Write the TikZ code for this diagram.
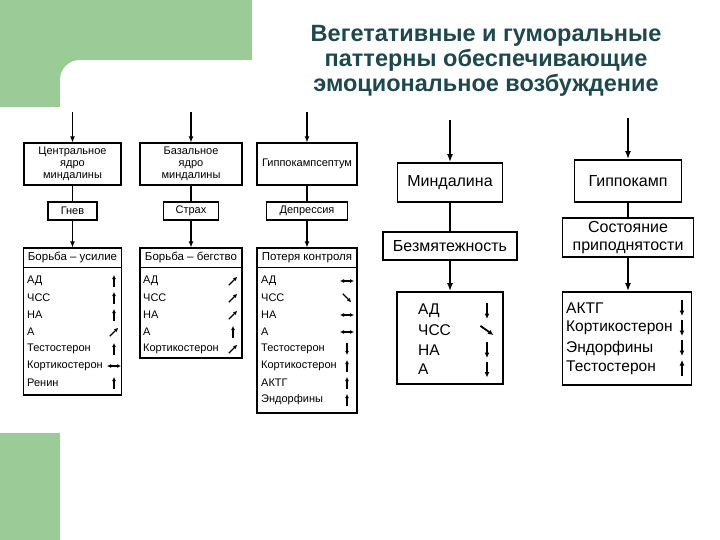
\documentclass[tikz,border=0pt]{standalone}
\usepackage{fontspec}
\setmainfont{Liberation Sans}
\usetikzlibrary{arrows.meta,positioning}

\definecolor{slidegreen}{RGB}{155,203,151}
\definecolor{titleteal}{RGB}{28,72,78}

\begin{document}
\begin{tikzpicture}[x=1pt, y=-1pt,
        box/.style={draw, line width=1.1pt, align=center, inner sep=1pt, font=\fontsize{11}{12}\selectfont},
        bigbox/.style={draw, line width=1.8pt, align=center, inner sep=1pt, font=\fontsize{16}{18}\selectfont},
        hdr/.style={inner sep=0pt, font=\fontsize{11.5}{13}\selectfont},
        row/.style={anchor=west, inner sep=0pt, font=\fontsize{11}{13}\selectfont},
        bigrow/.style={anchor=west, inner sep=0pt, font=\fontsize{15.5}{18}\selectfont},
        arr/.style={-{Latex[length=6pt,width=5pt]}, line width=1.1pt},
        bigarr/.style={-{Latex[length=8pt,width=6pt]}, line width=1.6pt},
        trs/.style={-{Latex[length=4pt,width=4pt]}, line width=1.3pt},
        trd/.style={<->, >={Latex[length=4pt,width=4pt]}, line width=1.3pt},
        bigtrs/.style={-{Latex[length=5.5pt,width=5pt]}, line width=1.8pt},
        ttl/.style={align=center, text=titleteal, font=\fontsize{23.5}{25}\selectfont\bfseries}
    ]
    \useasboundingbox (0,0) rectangle (720,540);

    % green corner shapes
    \fill[slidegreen] (0,0) rectangle (252,60);
    \fill[slidegreen] (0,0) rectangle (60,107);
    \fill[slidegreen] (60,60) rectangle (80,80);
    \fill[white] (80,80) circle (20pt);
    \fill[slidegreen] (0,433) rectangle (60,540);

    \node[ttl] (title) at (486,61) {Вегетативные и гуморальные\\паттерны обеспечивающие\\эмоциональное возбуждение};

    % column 1
    \coordinate (in1) at (72.5,112);
    \node[box, minimum width=97pt, minimum height=42pt] (c1) at (72.5,164) {Центральное\\ядро\\миндалины};
    \node[box, minimum width=49pt, minimum height=18pt] (e1) at (72.5,211) {Гнев};
    \node[draw, line width=1.1pt, minimum width=98pt, minimum height=147pt] (l1) at (72.5,321.5) {};
    \node[hdr, minimum width=98pt, minimum height=20pt, anchor=north] (h1) at (l1.north) {Борьба – усилие};
    \draw[line width=1.1pt] (h1.south west) -- (h1.south east);
    \draw[arr] (in1) -- (c1);
    \draw[line width=1.1pt] (c1) -- (e1);
    \draw[arr] (e1) -- (l1);
    \foreach \t/\a/\d [count=\i] in {АД/90/0, ЧСС/90/0, НА/90/0, А/45/0, Тестостерон/90/0, Кортикостерон/0/1, Ренин/90/0}{
        \node[row] (r1\i) at (27,264+17*\i) {\t};
        \ifnum\d=1
            \draw[trd] (114,264+17*\i) ++(180:7pt) -- ++(0:14pt);
        \else
            \draw[trs] (114,264+17*\i) ++(\a+180:6pt) -- ++(\a:12pt);
        \fi
    }

    % column 2
    \coordinate (in2) at (191,112);
    \node[box, minimum width=102pt, minimum height=42pt] (c2) at (191,164) {Базальное\\ядро\\миндалины};
    \node[box, minimum width=55pt, minimum height=18pt] (e2) at (191,211) {Страх};
    \node[draw, line width=1.1pt, minimum width=102pt, minimum height=110pt] (l2) at (191,303) {};
    \node[hdr, minimum width=102pt, minimum height=20pt, anchor=north] (h2) at (l2.north) {Борьба – бегство};
    \draw[line width=1.1pt] (h2.south west) -- (h2.south east);
    \draw[arr] (in2) -- (c2);
    \draw[line width=1.1pt] (c2) -- (e2);
    \draw[arr] (e2) -- (l2);
    \foreach \t/\a [count=\i] in {АД/45, ЧСС/45, НА/45, А/90, Кортикостерон/45}{
        \node[row] (r2\i) at (143,264+17*\i) {\t};
        \draw[trs] (233,264+17*\i) ++(\a+180:6pt) -- ++(\a:12pt);
    }

    % column 3
    \coordinate (in3) at (307,112);
    \node[box, minimum width=100pt, minimum height=42pt] (c3) at (307,164) {Гиппокампсептум};
    \node[box, minimum width=81pt, minimum height=18pt] (e3) at (307,211) {Депрессия};
    \node[draw, line width=1.1pt, minimum width=100pt, minimum height=165pt] (l3) at (307,330.5) {};
    \node[hdr, minimum width=100pt, minimum height=20pt, anchor=north] (h3) at (l3.north) {Потеря контроля};
    \draw[line width=1.1pt] (h3.south west) -- (h3.south east);
    \draw[arr] (in3) -- (c3);
    \draw[line width=1.1pt] (c3) -- (e3);
    \draw[arr] (e3) -- (l3);
    \foreach \t/\a/\d [count=\i] in {АД/0/1, ЧСС/-45/0, НА/0/1, А/0/1, Тестостерон/-90/0, Кортикостерон/90/0, АКТГ/90/0, Эндорфины/90/0}{
        \node[row] (r3\i) at (261,264+17*\i) {\t};
        \ifnum\d=1
            \draw[trd] (347,264+17*\i) ++(180:7pt) -- ++(0:14pt);
        \else
            \draw[trs] (347,264+17*\i) ++(\a+180:6pt) -- ++(\a:12pt);
        \fi
    }

    % column 4
    \coordinate (in4) at (450,120);
    \node[bigbox, minimum width=105pt, minimum height=39pt] (c4) at (450,182.5) {Миндалина};
    \node[bigbox, minimum width=134pt, minimum height=28pt] (e4) at (450,246) {Безмятежность};
    \node[draw, line width=1.8pt, minimum width=106pt, minimum height=92pt] (l4) at (450,338) {};
    \draw[bigarr] (in4) -- (c4);
    \draw[line width=1.1pt] (c4) -- (e4);
    \draw[bigarr] (e4) -- (l4);
    \foreach \t/\a [count=\i] in {АД/-90, ЧСС/-35, НА/-90, А/-90}{
        \node[bigrow] (r4\i) at (418,291.5+19.5*\i) {\t};
        \draw[bigtrs] (487,291.5+19.5*\i) ++(\a+180:8pt) -- ++(\a:16pt);
    }

    % column 5
    \coordinate (in5) at (628,118);
    \node[bigbox, minimum width=107pt, minimum height=42pt] (c5) at (628,181) {Гиппокамп};
    \node[bigbox, minimum width=131pt, minimum height=39pt] (e5) at (628,237.5) {Состояние\\приподнятости};
    \node[draw, line width=1.8pt, minimum width=129pt, minimum height=93pt] (l5) at (627,338.5) {};
    \draw[bigarr] (in5) -- (c5);
    \draw[line width=2.2pt] (c5) -- (e5);
    \draw[bigarr] (e5) -- (e5 |- l5.north);
    \foreach \t/\a [count=\i] in {АКТГ/-90, Кортикостерон/-90, Эндорфины/-90, Тестостерон/90}{
        \node[bigrow] (r5\i) at (566,288+20*\i) {\t};
        \draw[bigtrs] (682,288+20*\i) ++(\a+180:8pt) -- ++(\a:16pt);
    }
\end{tikzpicture}
\end{document}
